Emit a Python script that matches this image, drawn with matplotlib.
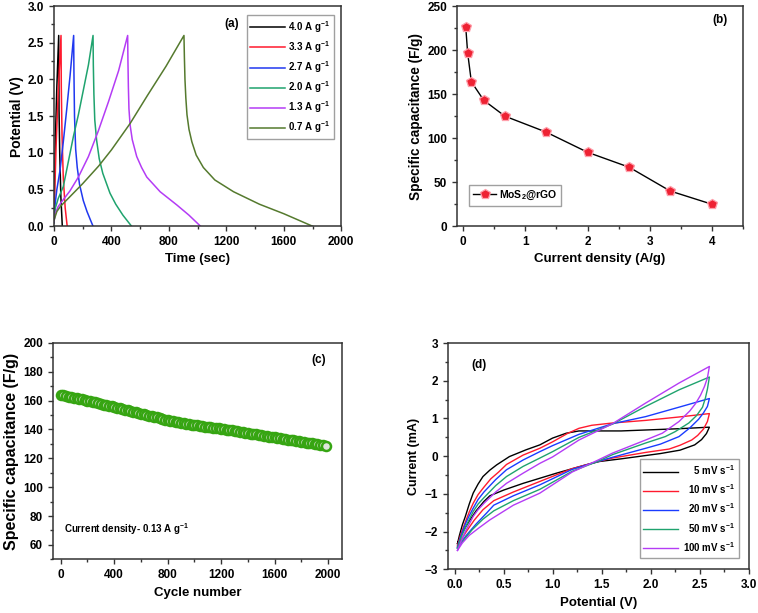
import numpy as np
import matplotlib.pyplot as plt
from matplotlib.ticker import MultipleLocator

plt.rcParams['font.family'] = ['Liberation Sans', 'DejaVu Sans']
plt.rcParams['font.weight'] = 'bold'
plt.rcParams['mathtext.fontset'] = 'custom'
plt.rcParams['mathtext.bf'] = 'Liberation Sans:bold'
plt.rcParams['mathtext.rm'] = 'Liberation Sans:bold'
plt.rcParams['mathtext.default'] = 'bf'

# (a) galvanostatic charge/discharge
gcd_labels = ['4.0 A g$^{-1}$', '3.3 A g$^{-1}$', '2.7 A g$^{-1}$',
              '2.0 A g$^{-1}$', '1.3 A g$^{-1}$', '0.7 A g$^{-1}$']
gcd_colors = ['#000000', '#ff1a2e', '#2038f0', '#1fa36e', '#b43cf5', '#557a2e']
t_40 = [0, 4, 10, 20, 33, 35, 40, 48, 58]
v_40 = [0.05, 0.6, 1.2, 1.9, 2.6, 1.6, 1.0, 0.4, 0.0]
t_33 = [0, 5, 15, 30, 49, 51, 56, 65, 78, 92]
v_33 = [0.05, 0.45, 1.1, 1.85, 2.6, 1.9, 1.25, 0.65, 0.25, 0.0]
t_27 = [0, 8, 20, 42, 65, 88, 112, 137, 139, 143, 151, 162, 178, 204, 230, 255, 272]
v_27 = [0.05, 0.3, 0.5, 0.76, 1.15, 1.58, 2.05, 2.6, 2.1, 1.5, 1.05, 0.8, 0.57, 0.35, 0.2, 0.08, 0.0]
t_20 = [0, 10, 30, 65, 100, 135, 170, 204, 240, 272, 274, 278, 284, 297, 315, 340, 390, 430, 480, 540]
v_20 = [0.05, 0.25, 0.38, 0.54, 0.88, 1.22, 1.52, 1.85, 2.2, 2.6, 2.2, 1.8, 1.45, 1.17, 0.92, 0.72, 0.45, 0.3, 0.15, 0.0]
t_13 = [0, 10, 30, 60, 111, 170, 240, 309, 380, 450, 513,
        515, 518, 522, 530, 545, 576, 610, 646, 739, 855, 940, 1020]
v_13 = [0.06, 0.18, 0.27, 0.35, 0.48, 0.67, 0.95, 1.3, 1.7, 2.12, 2.6,
        2.25, 1.9, 1.6, 1.38, 1.18, 0.95, 0.8, 0.67, 0.47, 0.29, 0.15, 0.0]
t_07 = [0, 20, 45, 100, 200, 311, 400, 530, 650, 780, 905,
        908, 912, 918, 926, 940, 960, 990, 1040, 1120, 1250, 1430, 1600, 1800]
v_07 = [0.08, 0.2, 0.27, 0.38, 0.58, 0.82, 1.04, 1.4, 1.78, 2.18, 2.6,
        2.3, 2.0, 1.75, 1.52, 1.32, 1.15, 0.97, 0.8, 0.63, 0.47, 0.3, 0.17, 0.0]
gcd_t = [t_40, t_33, t_27, t_20, t_13, t_07]
gcd_v = [v_40, v_33, v_27, v_20, v_13, v_07]

# (b) rate capability
current_density = [0.04, 0.07, 0.13, 0.33, 0.67, 1.33, 2.0, 2.67, 3.33, 4.0]
capacitance = [226, 197, 164, 143, 125, 107, 84, 67, 40, 25]

# (c) cycling stability, one point every 20 cycles
cycle_step = 20
cycle_cap = [164.0, 163.6, 163.2, 162.8, 162.4, 162.0, 161.6, 161.2, 160.8, 160.4,
             160.0, 159.6, 159.1, 158.7, 158.2, 157.8, 157.3, 156.9, 156.4, 156.0,
             155.5, 155.0, 154.6, 154.1, 153.7, 153.2, 152.8, 152.3, 151.9, 151.4,
             151.0, 150.5, 150.1, 149.6, 149.2, 148.7, 148.3, 147.8, 147.4, 146.9,
             146.5, 146.1, 145.7, 145.3, 144.9, 144.5, 144.2, 143.9, 143.6, 143.3,
             143.0, 142.8, 142.5, 142.3, 142.0, 141.8, 141.5, 141.3, 141.0, 140.8,
             140.5, 140.2, 139.9, 139.6, 139.3, 139.0, 138.7, 138.4, 138.1, 137.8,
             137.5, 137.2, 136.9, 136.6, 136.3, 136.0, 135.7, 135.4, 135.1, 134.8,
             134.5, 134.2, 133.9, 133.6, 133.3, 133.0, 132.7, 132.4, 132.1, 131.8,
             131.5, 131.2, 130.9, 130.6, 130.3, 130.0, 129.7, 129.4, 129.1, 128.8]
cycles = np.arange(len(cycle_cap)) * cycle_step

# (d) cyclic voltammetry (upper branch then lower branch)
cv_labels = ['    5 mV s$^{-1}$', '  10 mV s$^{-1}$', '  20 mV s$^{-1}$',
             '  50 mV s$^{-1}$', '100 mV s$^{-1}$']
cv_colors = ['#000000', '#ff1a2e', '#1a3cff', '#1fa36e', '#b43cf5']
cv_v5 = [0.03, 0.05, 0.08, 0.11, 0.15, 0.19, 0.24, 0.29, 0.36, 0.43, 0.56, 0.73, 0.87, 1.0, 1.14, 1.27, 1.48, 1.7, 2.0, 2.3, 2.6,
         2.57, 2.52, 2.45, 2.3, 2.1, 1.9, 1.7, 1.48, 1.34, 1.04, 0.7, 0.5, 0.36, 0.3, 0.22, 0.15, 0.08, 0.03]
cv_i5 = [-2.32, -2.1, -1.82, -1.6, -1.27, -0.98, -0.74, -0.54, -0.37, -0.23, -0.01, 0.17, 0.3, 0.48, 0.61, 0.67, 0.67, 0.67, 0.70, 0.73, 0.77,
         0.6, 0.44, 0.3, 0.16, 0.07, 0.0, -0.07, -0.14, -0.23, -0.45, -0.72, -0.9, -1.05, -1.2, -1.45, -1.72, -2.02, -2.32]
cv_v10 = [0.03, 0.06, 0.11, 0.15, 0.19, 0.24, 0.3, 0.37, 0.45, 0.53, 0.7, 0.87, 1.0, 1.15, 1.27, 1.4, 1.61, 1.95, 2.29, 2.6,
          2.58, 2.54, 2.48, 2.42, 2.3, 2.19, 1.95, 1.61, 1.45, 1.2, 0.87, 0.6, 0.4, 0.29, 0.2, 0.12, 0.03]
cv_i10 = [-2.38, -2.1, -1.75, -1.48, -1.25, -1.02, -0.82, -0.6, -0.42, -0.22, 0.03, 0.21, 0.38, 0.6, 0.74, 0.82, 0.88, 0.95, 1.04, 1.13,
          0.92, 0.72, 0.55, 0.43, 0.29, 0.19, 0.10, -0.05, -0.15, -0.33, -0.67, -0.95, -1.18, -1.42, -1.7, -2.0, -2.38]
cv_v20 = [0.03, 0.06, 0.11, 0.15, 0.19, 0.24, 0.3, 0.42, 0.53, 0.7, 0.87, 1.0, 1.27, 1.61, 1.95, 2.29, 2.6,
          2.58, 2.54, 2.49, 2.4, 2.29, 2.1, 1.95, 1.61, 1.45, 1.2, 0.87, 0.6, 0.4, 0.33, 0.22, 0.12, 0.03]
cv_i20 = [-2.42, -2.15, -1.8, -1.58, -1.38, -1.15, -0.95, -0.62, -0.36, -0.1, 0.12, 0.28, 0.58, 0.86, 1.05, 1.3, 1.53,
          1.32, 1.15, 0.98, 0.75, 0.52, 0.32, 0.21, -0.03, -0.15, -0.35, -0.76, -1.05, -1.3, -1.5, -1.8, -2.1, -2.42]
cv_v50 = [0.03, 0.06, 0.11, 0.15, 0.19, 0.24, 0.3, 0.42, 0.53, 0.7, 0.87, 1.0, 1.27, 1.61, 1.95, 2.29, 2.6,
          2.58, 2.56, 2.53, 2.47, 2.39, 2.25, 2.15, 1.95, 1.61, 1.45, 1.2, 0.87, 0.6, 0.4, 0.29, 0.18, 0.1, 0.03]
cv_i50 = [-2.45, -2.2, -1.9, -1.68, -1.47, -1.27, -1.1, -0.78, -0.54, -0.27, -0.05, 0.12, 0.5, 0.85, 1.32, 1.76, 2.1,
          1.78, 1.55, 1.3, 1.08, 0.88, 0.65, 0.52, 0.35, 0.04, -0.15, -0.4, -0.88, -1.18, -1.45, -1.67, -1.95, -2.2, -2.45]
cv_v100 = [0.03, 0.06, 0.11, 0.15, 0.19, 0.24, 0.3, 0.42, 0.53, 0.7, 0.87, 1.0, 1.27, 1.61, 1.95, 2.29, 2.6,
           2.58, 2.55, 2.51, 2.46, 2.4, 2.29, 2.12, 1.95, 1.61, 1.45, 1.2, 0.87, 0.6, 0.36, 0.25, 0.15, 0.08, 0.03]
cv_i100 = [-2.5, -2.3, -2.0, -1.8, -1.6, -1.42, -1.25, -0.95, -0.72, -0.45, -0.19, -0.02, 0.43, 0.86, 1.41, 1.94, 2.38,
           2.08, 1.85, 1.62, 1.4, 1.2, 0.92, 0.61, 0.43, 0.08, -0.12, -0.42, -0.98, -1.3, -1.69, -1.9, -2.1, -2.3, -2.5]
cv_v = [cv_v5, cv_v10, cv_v20, cv_v50, cv_v100]
cv_i = [cv_i5, cv_i10, cv_i20, cv_i50, cv_i100]

fig = plt.figure(figsize=(7.58, 6.13), dpi=100)
ax_a = fig.add_axes([0.0712, 0.631, 0.379, 0.359])
ax_b = fig.add_axes([0.603, 0.631, 0.377, 0.359])
ax_c = fig.add_axes([0.0695, 0.0876, 0.382, 0.353])
ax_d = fig.add_axes([0.5906, 0.0713, 0.397, 0.369])


def style(ax, xmaj, xmin, ymaj, ymin):
    for s in ax.spines.values():
        s.set_color('#333333')
        s.set_linewidth(1.1)
    ax.xaxis.set_major_locator(MultipleLocator(xmaj))
    ax.xaxis.set_minor_locator(MultipleLocator(xmin))
    ax.yaxis.set_major_locator(MultipleLocator(ymaj))
    ax.yaxis.set_minor_locator(MultipleLocator(ymin))
    ax.tick_params(which='both', direction='out', top=False, right=False,
                   color='#333333', width=1.0, labelsize=8.5)
    ax.tick_params(which='major', length=3.5)
    ax.tick_params(which='minor', length=2)


# (a)
for t, v, c, lab in zip(gcd_t, gcd_v, gcd_colors, gcd_labels):
    ax_a.plot(t, v, color=c, lw=1.1, label=lab)
ax_a.set_xlim(0, 2000)
ax_a.set_ylim(0, 3.0)
style(ax_a, 400, 200, 0.5, 0.25)
ax_a.yaxis.set_major_formatter(lambda y, p: f'{y:.1f}')
ax_a.set_xlabel('Time (sec)', fontsize=9.5, fontweight='bold', labelpad=4)
ax_a.set_ylabel('Potential (V)', fontsize=10, fontweight='bold', labelpad=3)
ax_a.text(0.62, 0.92, '(a)', transform=ax_a.transAxes, fontsize=8.5,
          fontweight='bold', ha='center', va='center')
leg = ax_a.legend(loc='upper right', fontsize=7, handlelength=3.6,
                  handletextpad=0.3, labelspacing=0.45, borderpad=0.35,
                  fancybox=False, bbox_to_anchor=(0.99, 0.98))
leg.get_frame().set_edgecolor('#888888')
leg.get_frame().set_linewidth(1.0)

# (b)
ax_b.plot(current_density, capacitance, color='black', lw=1.0, marker='p',
          ms=7, mfc='#ee2233', mec='#ffa0ac', mew=0.9, label='MoS$_2$@rGO')
ax_b.set_xlim(-0.1, 4.5)
ax_b.set_ylim(0, 250)
style(ax_b, 1, 0.5, 50, 25)
ax_b.set_xlabel('Current density (A/g)', fontsize=9.5, fontweight='bold', labelpad=4)
ax_b.set_ylabel('Specific capacitance (F/g)', fontsize=9.8, fontweight='bold', labelpad=3)
ax_b.text(0.92, 0.935, '(b)', transform=ax_b.transAxes, fontsize=8.5,
          fontweight='bold', ha='center', va='center')
leg = ax_b.legend(loc='lower left', fontsize=7.5, handlelength=2.2,
                  handletextpad=0.3, borderpad=0.35, fancybox=False,
                  bbox_to_anchor=(0.025, 0.07))
leg.get_frame().set_edgecolor('#888888')
leg.get_frame().set_linewidth(1.0)

# (c)
ax_c.plot(cycles, cycle_cap, ls='none', marker='o', ms=6.5, mfc='#dfe6dc',
          mec='#36a512', mew=1.8)
ax_c.set_xlim(-60, 2105)
ax_c.set_ylim(50, 200)
style(ax_c, 400, 200, 20, 10)
ax_c.set_yticks([60, 80, 100, 120, 140, 160, 180, 200])
ax_c.set_xlabel('Cycle number', fontsize=9.5, fontweight='bold', labelpad=4)
ax_c.set_ylabel('Specific capacitance (F/g)', fontsize=11.5, fontweight='bold', labelpad=3)
ax_c.text(0.92, 0.92, '(c)', transform=ax_c.transAxes, fontsize=8.5,
          fontweight='bold', ha='center', va='center')
ax_c.text(0.04, 0.14, 'Current density- 0.13 A g$^{-1}$', transform=ax_c.transAxes,
          fontsize=7, fontweight='bold', ha='left', va='center')

# (d)
for v, i, c, lab in zip(cv_v, cv_i, cv_colors, cv_labels):
    ax_d.plot(v, i, color=c, lw=1.0, label=lab)
ax_d.set_xlim(-0.07, 3.0)
ax_d.set_ylim(-3, 3)
style(ax_d, 0.5, 0.25, 1, 0.5)
ax_d.xaxis.set_major_formatter(lambda x, p: f'{x:.1f}')
ax_d.set_xlabel('Potential (V)', fontsize=9.5, fontweight='bold', labelpad=4)
ax_d.set_ylabel('Current (mA)', fontsize=9, fontweight='bold', labelpad=3)
ax_d.text(0.105, 0.905, '(d)', transform=ax_d.transAxes, fontsize=8.5,
          fontweight='bold', ha='center', va='center')
leg = ax_d.legend(loc='lower right', fontsize=7, handlelength=3.6,
                  handletextpad=0.5, labelspacing=0.55, borderpad=0.4,
                  fancybox=False, bbox_to_anchor=(0.985, 0.03))
leg.get_frame().set_edgecolor('#888888')
leg.get_frame().set_linewidth(1.0)

fig.savefig('out.png', dpi=100)
